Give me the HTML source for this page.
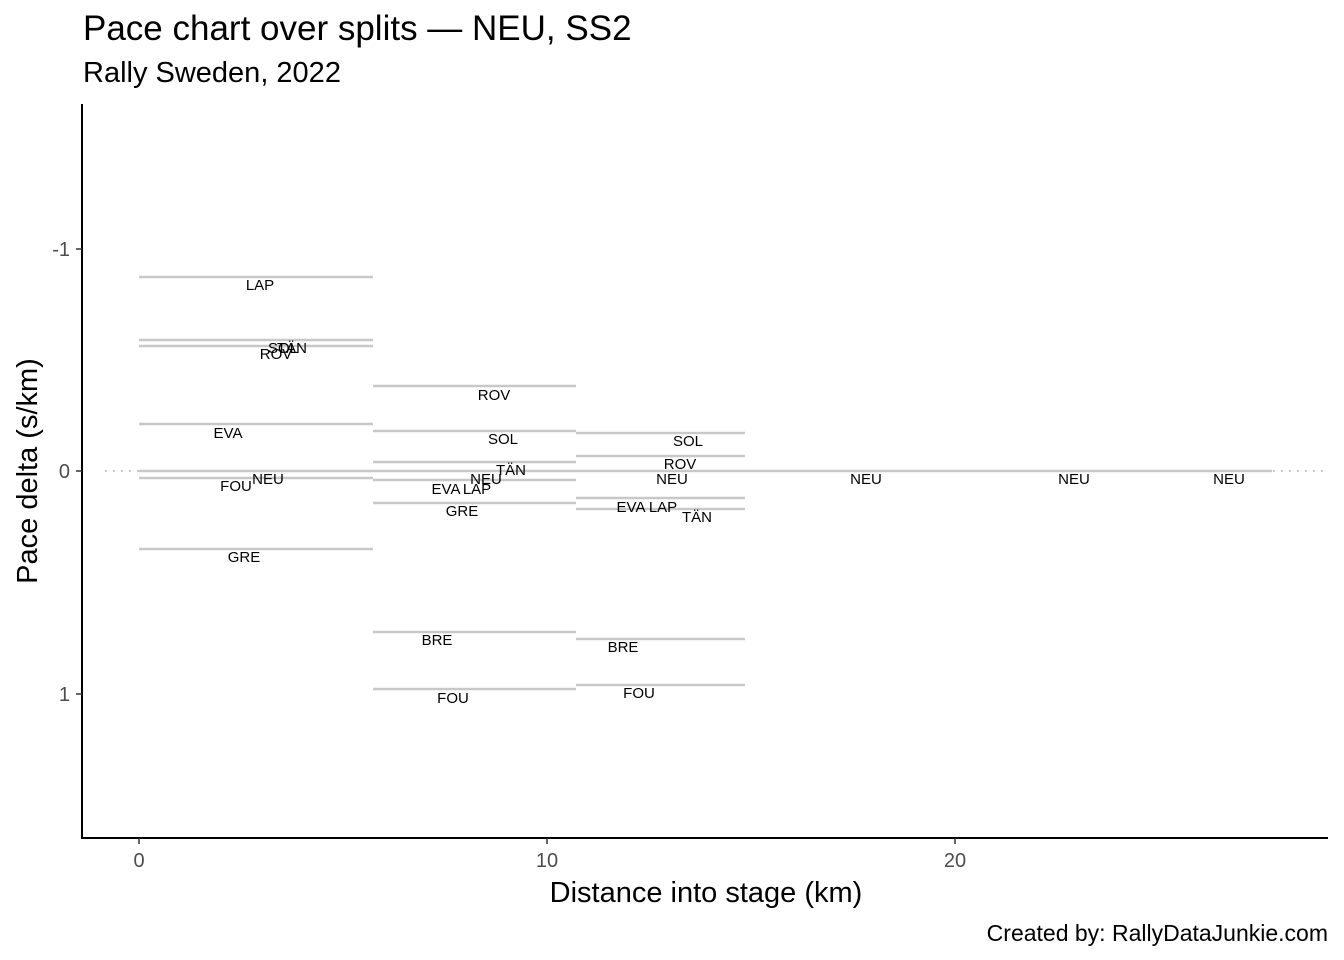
<!DOCTYPE html>
<html><head><meta charset="utf-8"><style>body{margin:0;background:#fff}svg{display:block;font-family:"Liberation Sans","Noto Sans CJK JP",sans-serif}</style></head><body>
<svg width="1344" height="960" viewBox="0 0 1344 960" xmlns="http://www.w3.org/2000/svg">
<rect width="1344" height="960" fill="#fff"/>
<text x="83" y="40" font-size="35">Pace chart over splits — NEU, SS2</text>
<text x="83" y="82" font-size="29">Rally Sweden, 2022</text>
<line x1="105" y1="471" x2="1328" y2="471" stroke="#c8c8c8" stroke-width="2" stroke-dasharray="2,6"/>
<g stroke="#c8c8c8" stroke-width="2.5">
<line x1="139" y1="277" x2="373" y2="277"/><line x1="139" y1="340" x2="373" y2="340"/><line x1="139" y1="346" x2="373" y2="346"/>
<line x1="139" y1="424" x2="373" y2="424"/><line x1="139" y1="478" x2="373" y2="478"/><line x1="139" y1="549" x2="373" y2="549"/>
<line x1="373" y1="386" x2="576" y2="386"/><line x1="373" y1="431" x2="576" y2="431"/><line x1="373" y1="462" x2="576" y2="462"/>
<line x1="373" y1="480" x2="576" y2="480"/><line x1="373" y1="503" x2="576" y2="503"/><line x1="373" y1="632" x2="576" y2="632"/><line x1="373" y1="689" x2="576" y2="689"/>
<line x1="576" y1="433" x2="745" y2="433"/><line x1="576" y1="456" x2="745" y2="456"/><line x1="576" y1="498" x2="745" y2="498"/>
<line x1="576" y1="509" x2="745" y2="509"/><line x1="576" y1="639" x2="745" y2="639"/><line x1="576" y1="685" x2="745" y2="685"/>
<line x1="139" y1="471" x2="1272" y2="471"/>
</g>
<g font-size="15" text-anchor="middle" fill="#000">
<text x="260" y="290">LAP</text><text x="283" y="353">SOL</text><text x="292" y="353">TÄN</text><text x="276" y="359">ROV</text>
<text x="228" y="438">EVA</text><text x="268" y="484">NEU</text><text x="236" y="491">FOU</text><text x="244" y="562">GRE</text>
<text x="494" y="400">ROV</text><text x="503" y="444">SOL</text><text x="511" y="475">TÄN</text><text x="486" y="484">NEU</text>
<text x="446" y="494">EVA</text><text x="477" y="494">LAP</text><text x="462" y="516">GRE</text><text x="437" y="645">BRE</text><text x="453" y="703">FOU</text>
<text x="688" y="446">SOL</text><text x="680" y="469">ROV</text><text x="672" y="484">NEU</text><text x="631" y="512">EVA</text><text x="663" y="512">LAP</text>
<text x="697" y="522">TÄN</text><text x="623" y="652">BRE</text><text x="639" y="698">FOU</text>
<text x="866" y="484">NEU</text><text x="1074" y="484">NEU</text><text x="1229" y="484">NEU</text>
</g>
<g stroke="#000" stroke-width="2"><line x1="82" y1="104" x2="82" y2="839"/><line x1="81" y1="838" x2="1328" y2="838"/></g>
<g stroke="#333" stroke-width="1.5"><line x1="76" y1="249" x2="82" y2="249"/><line x1="76" y1="471" x2="82" y2="471"/><line x1="76" y1="694" x2="82" y2="694"/>
<line x1="139" y1="838" x2="139" y2="844"/><line x1="547" y1="838" x2="547" y2="844"/><line x1="955" y1="838" x2="955" y2="844"/></g>
<g font-size="20" fill="#4d4d4d"><g text-anchor="end"><text x="70" y="256">-1</text><text x="70" y="478">0</text><text x="70" y="701">1</text></g>
<g text-anchor="middle"><text x="139" y="867">0</text><text x="547" y="867">10</text><text x="955" y="867">20</text></g></g>
<text x="706" y="902" font-size="29" text-anchor="middle">Distance into stage (km)</text>
<text transform="translate(37,471) rotate(-90)" font-size="29" text-anchor="middle">Pace delta (s/km)</text>
<text x="1328" y="941" font-size="23" text-anchor="end">Created by: RallyDataJunkie.com</text>
</svg>
</body></html>
